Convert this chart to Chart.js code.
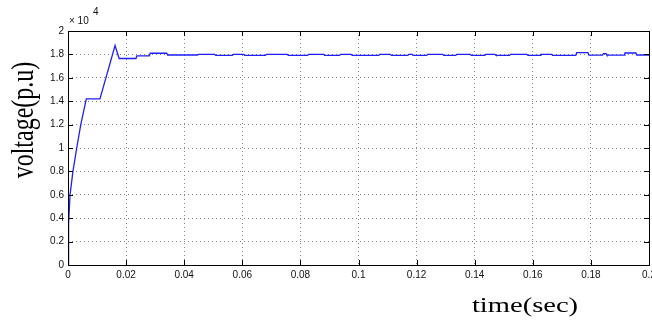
<!DOCTYPE html>
<html>
<head>
<meta charset="utf-8">
<script src="https://cdn.jsdelivr.net/npm/chart.js@4"></script>
<style>
  body { margin: 0; background: #fff; }
  canvas { display: block; }
</style>
</head>
<body>
<canvas id="voltChart" width="652" height="320"></canvas>
<script>
// time (s) and voltage (x 10^4 p.u); steps are given as point pairs
const timeSec = [
  0, 0.0002, 0.0007, 0.0017, 0.003, 0.0044, 0.0063, 0.011, 0.0162, 0.0176,
  0.0234, 0.0237, 0.028, 0.0283, 0.034, 0.0343, 0.0446, 0.0449,
  0.0505, 0.0508, 0.0566, 0.0569, 0.0605, 0.0608, 0.068, 0.0683,
  0.0755, 0.0758, 0.0825, 0.0828, 0.088, 0.0883, 0.0935, 0.0938,
  0.0975, 0.0978, 0.107, 0.1073, 0.111, 0.1113, 0.117, 0.1173,
  0.1185, 0.1188, 0.1235, 0.1238, 0.129, 0.1293, 0.1335, 0.1338,
  0.1385, 0.1388, 0.1435, 0.1438, 0.147, 0.1473, 0.152, 0.1523,
  0.158, 0.1583, 0.1625, 0.1628, 0.1665, 0.1668, 0.1748, 0.1751,
  0.179, 0.1793, 0.184, 0.1843, 0.1852, 0.1855, 0.1914, 0.1917,
  0.1955, 0.1958, 0.2
];
const voltage = [
  0, 0.35, 0.6, 0.8, 1.0, 1.2, 1.42, 1.42, 1.875, 1.765,
  1.765, 1.787, 1.787, 1.81, 1.81, 1.795, 1.795, 1.8,
  1.8, 1.792, 1.792, 1.8, 1.8, 1.792, 1.792, 1.8,
  1.8, 1.792, 1.792, 1.8, 1.8, 1.792, 1.792, 1.8,
  1.8, 1.792, 1.792, 1.8, 1.8, 1.792, 1.792, 1.8,
  1.8, 1.792, 1.792, 1.8, 1.8, 1.792, 1.792, 1.8,
  1.8, 1.792, 1.792, 1.8, 1.8, 1.792, 1.792, 1.8,
  1.8, 1.792, 1.792, 1.8, 1.8, 1.792, 1.792, 1.815,
  1.815, 1.794, 1.794, 1.806, 1.806, 1.794, 1.794, 1.812,
  1.812, 1.795, 1.795
];
const xTicks = [0, 0.02, 0.04, 0.06, 0.08, 0.1, 0.12, 0.14, 0.16, 0.18, 0.2];
const yTicks = [0, 0.2, 0.4, 0.6, 0.8, 1, 1.2, 1.4, 1.6, 1.8, 2];

const points = timeSec.map((t, i) => ({ x: t, y: voltage[i] }));

// frame, inward tick marks, axis labels and the x10^4 multiplier
const matlabDecor = {
  id: 'matlabDecor',
  afterDraw(chart) {
    const ctx = chart.ctx;
    const a = chart.chartArea;
    const xs = chart.scales.x, ys = chart.scales.y;
    ctx.save();
    ctx.strokeStyle = '#000';
    ctx.lineWidth = 1;
    ctx.beginPath();
    xTicks.forEach(v => {
      const px = Math.round(xs.getPixelForValue(v)) + 0.5;
      ctx.moveTo(px, a.bottom); ctx.lineTo(px, a.bottom - 5);
      ctx.moveTo(px, a.top); ctx.lineTo(px, a.top + 5);
    });
    yTicks.forEach(v => {
      const py = Math.round(ys.getPixelForValue(v)) + 0.5;
      ctx.moveTo(a.left, py); ctx.lineTo(a.left + 5, py);
      ctx.moveTo(a.right, py); ctx.lineTo(a.right - 5, py);
    });
    ctx.stroke();
    ctx.strokeRect(Math.round(a.left) + 0.5, Math.round(a.top) + 0.5,
      Math.round(a.right - a.left), Math.round(a.bottom - a.top));

    ctx.fillStyle = '#111';
    ctx.font = '10px "Liberation Sans"';
    ctx.textBaseline = 'middle';
    ctx.textAlign = 'left';
    ctx.fillText('\u00d7 10', a.left + 1, 21);
    ctx.fillText('4', a.left + 25, 12);

    ctx.fillStyle = '#000';
    ctx.font = '21px "Liberation Serif"';
    ctx.textAlign = 'center';
    ctx.textBaseline = 'alphabetic';
    ctx.save();
    ctx.translate(525, 312);
    ctx.scale(1.36, 1);
    ctx.fillText('time(sec)', 0, 0);
    ctx.restore();

    ctx.save();
    ctx.translate(33, 120);
    ctx.scale(1.3, 1);
    ctx.rotate(-Math.PI / 2);
    ctx.font = '24px "Liberation Serif"';
    ctx.fillText('voltage(p.u)', 0, 0);
    ctx.restore();
    ctx.restore();
  }
};

new Chart(document.getElementById('voltChart'), {
  type: 'line',
  data: {
    datasets: [{
      data: points,
      borderColor: 'rgb(30,30,255)',
      borderWidth: 1.3,
      pointRadius: 0,
      tension: 0,
      fill: false
    }]
  },
  options: {
    responsive: false,
    animation: false,
    layout: { padding: { top: 31, right: 3, left: 0, bottom: 0 } },
    plugins: { legend: { display: false }, tooltip: { enabled: false } },
    scales: {
      x: {
        type: 'linear',
        min: 0,
        max: 0.2,
        afterFit: s => { s.height = 55; s.paddingLeft = 0; s.paddingRight = 0; },
        afterBuildTicks: s => { s.ticks = xTicks.map(v => ({ value: v })); },
        ticks: {
          autoSkip: false,
          maxRotation: 0,
          padding: 4,
          color: '#111',
          font: { family: 'Liberation Sans', size: 10 },
          callback: v => String(Number(v.toFixed(2)))
        },
        grid: { color: '#888', drawTicks: false },
        border: { display: false, dash: [1, 3] }
      },
      y: {
        min: 0,
        max: 2,
        afterFit: s => { s.width = 68; s.paddingTop = 0; s.paddingBottom = 0; },
        afterBuildTicks: s => { s.ticks = yTicks.map(v => ({ value: v })); },
        ticks: {
          autoSkip: false,
          padding: 4,
          color: '#111',
          font: { family: 'Liberation Sans', size: 10 },
          callback: v => String(Number(v.toFixed(1)))
        },
        grid: { color: '#888', drawTicks: false },
        border: { display: false, dash: [1, 3] }
      }
    }
  },
  plugins: [matlabDecor]
});
</script>
</body>
</html>
